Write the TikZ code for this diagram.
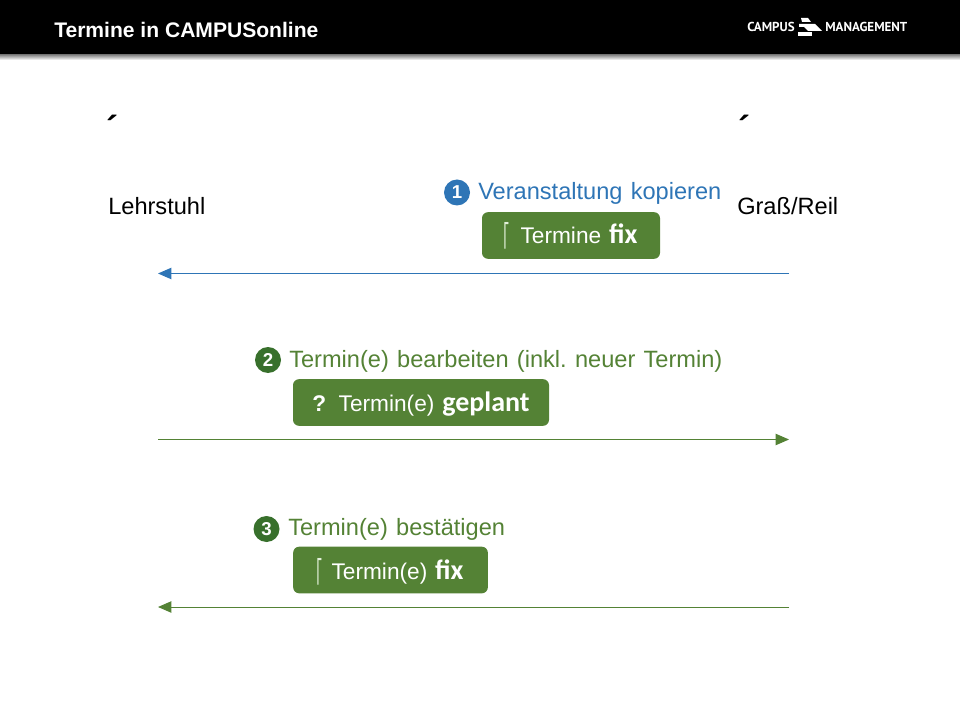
\documentclass[tikz,border=0pt]{standalone}
\usepackage{fontspec}
\setmainfont{Liberation Sans}
\newfontfamily\boxbold{Carlito}
\newfontfamily\logofont{PT Sans}
\newfontfamily\flagfont{DejaVu Sans}
\usepackage{xcolor}
\definecolor{ColB}{RGB}{46,117,182}
\definecolor{ColG}{RGB}{84,130,53}
\definecolor{ColN}{RGB}{56,112,44}
\definecolor{ColF}{RGB}{226,240,217}
\usetikzlibrary{arrows.meta}
\tikzstyle{Head}=[anchor=west,inner sep=0pt,text=white,font=\fontsize{15.8}{18}\selectfont\bfseries]
\tikzstyle{Logo}=[anchor=base west,inner sep=0pt,text=white,font=\fontsize{9.75}{11}\logofont\bfseries]
\tikzstyle{Mark}=[inner sep=0pt,font=\fontsize{27}{28}\selectfont\bfseries]
\tikzstyle{Side}=[anchor=base west,inner sep=0pt,font=\fontsize{17.7}{20}\selectfont]
\tikzstyle{StepText}=[anchor=base west,inner sep=0pt,font=\fontsize{17.7}{20}\selectfont]
\tikzstyle{Num}=[circle,inner sep=0pt,minimum size=19.5pt,text=white,font=\fontsize{14}{16}\selectfont\bfseries]
\tikzstyle{Box}=[rounded corners=4.5pt,inner sep=0pt,minimum height=35pt,text=white,fill=ColG]
\tikzstyle{BoxText}=[anchor=base west,inner sep=0pt,text=white,font=\fontsize{17}{20}\selectfont]
\tikzstyle{Edge}=[line width=.75pt,-{Triangle[length=10pt,width=8.5pt]}]
\newcommand{\Flag}[1]{\makebox[#1][l]{\scalebox{.55}[1]{\flagfont\color{ColF}\char"23A1}}}
\newcommand{\Bold}[1]{\kern1.2pt{\boxbold\bfseries\fontsize{21}{22}\selectfont #1}}
\newcommand{\Wide}{\frenchspacing\spaceskip=.35em\relax}
\begin{document}
\begin{tikzpicture}[x=.75pt,y=-.75pt]
        \useasboundingbox (0,0) rectangle (960,720);
        \shade[top color=black!55,bottom color=white] (0,54) rectangle (960,60);
        \fill[black] (0,0) rectangle (960,54);
        \node[Head](title)at(54,30){Termine in CAMPUSonline};
        \node[Logo](campus)at(747,32){CAMPUS};
        \node[Logo](management)at(825,32){MANAGEMENT};
        \fill[white] (801,18)--(808,18)--(811,22)--(802,22)--cycle;
        \fill[white] (799,24)--(815,24)--(822,31)--(808,31)--(804,27)--(799,27)--cycle;
        \fill[white] (798,32)--(812,32)--(812,36)--(798,36)--cycle;
        \node[Mark](markl)at(112,128){´};
        \node[Mark](markr)at(744,128){´};
        \node[Side](lehrstuhl)at(108,215){Lehrstuhl};
        \node[Side](grass)at(737,215){Graß/Reil};
        % step 1
        \node[Num,fill=ColB](n1)at(457,192.5){1};
        \node[StepText,text=ColB](s1)at(478,200){\Wide Veranstaltung kopieren};
        \node[Box,minimum width=133.5pt](b1)at(571,235.5){};
        \node[BoxText](t1)at(503,244){\Flag{13pt}Termine \Bold{fix}};
        \coordinate(a1)at(789,273.5);
        \coordinate(c1)at(158,273.5);
        \draw[Edge,draw=ColB,fill=ColB](a1)--(c1);
        % step 2
        \node[Num,fill=ColN](n2)at(268,360){2};
        \node[StepText,text=ColG](s2)at(289,367.5){\Wide Termin(e) bearbeiten (inkl. neuer Termin)};
        \node[Box,minimum width=192pt](b2)at(421,402.5){};
        \node[BoxText](t2)at(312,411){\textbf{?}\ \ Termin(e) \Bold{geplant}};
        \coordinate(a2)at(158,439.5);
        \coordinate(c2)at(789,439.5);
        \draw[Edge,draw=ColG,fill=ColG](a2)--(c2);
        % step 3
        \node[Num,fill=ColN](n3)at(266.5,529){3};
        \node[StepText,text=ColG](s3)at(288,535.5){\Wide Termin(e) bestätigen};
        \node[Box,minimum width=146pt](b3)at(390.5,570){};
        \node[BoxText](t3)at(316,579){\Flag{11.5pt}Termin(e) \Bold{fix}};
        \coordinate(a3)at(789,607);
        \coordinate(c3)at(158,607);
        \draw[Edge,draw=ColG,fill=ColG](a3)--(c3);
\end{tikzpicture}
\end{document}
